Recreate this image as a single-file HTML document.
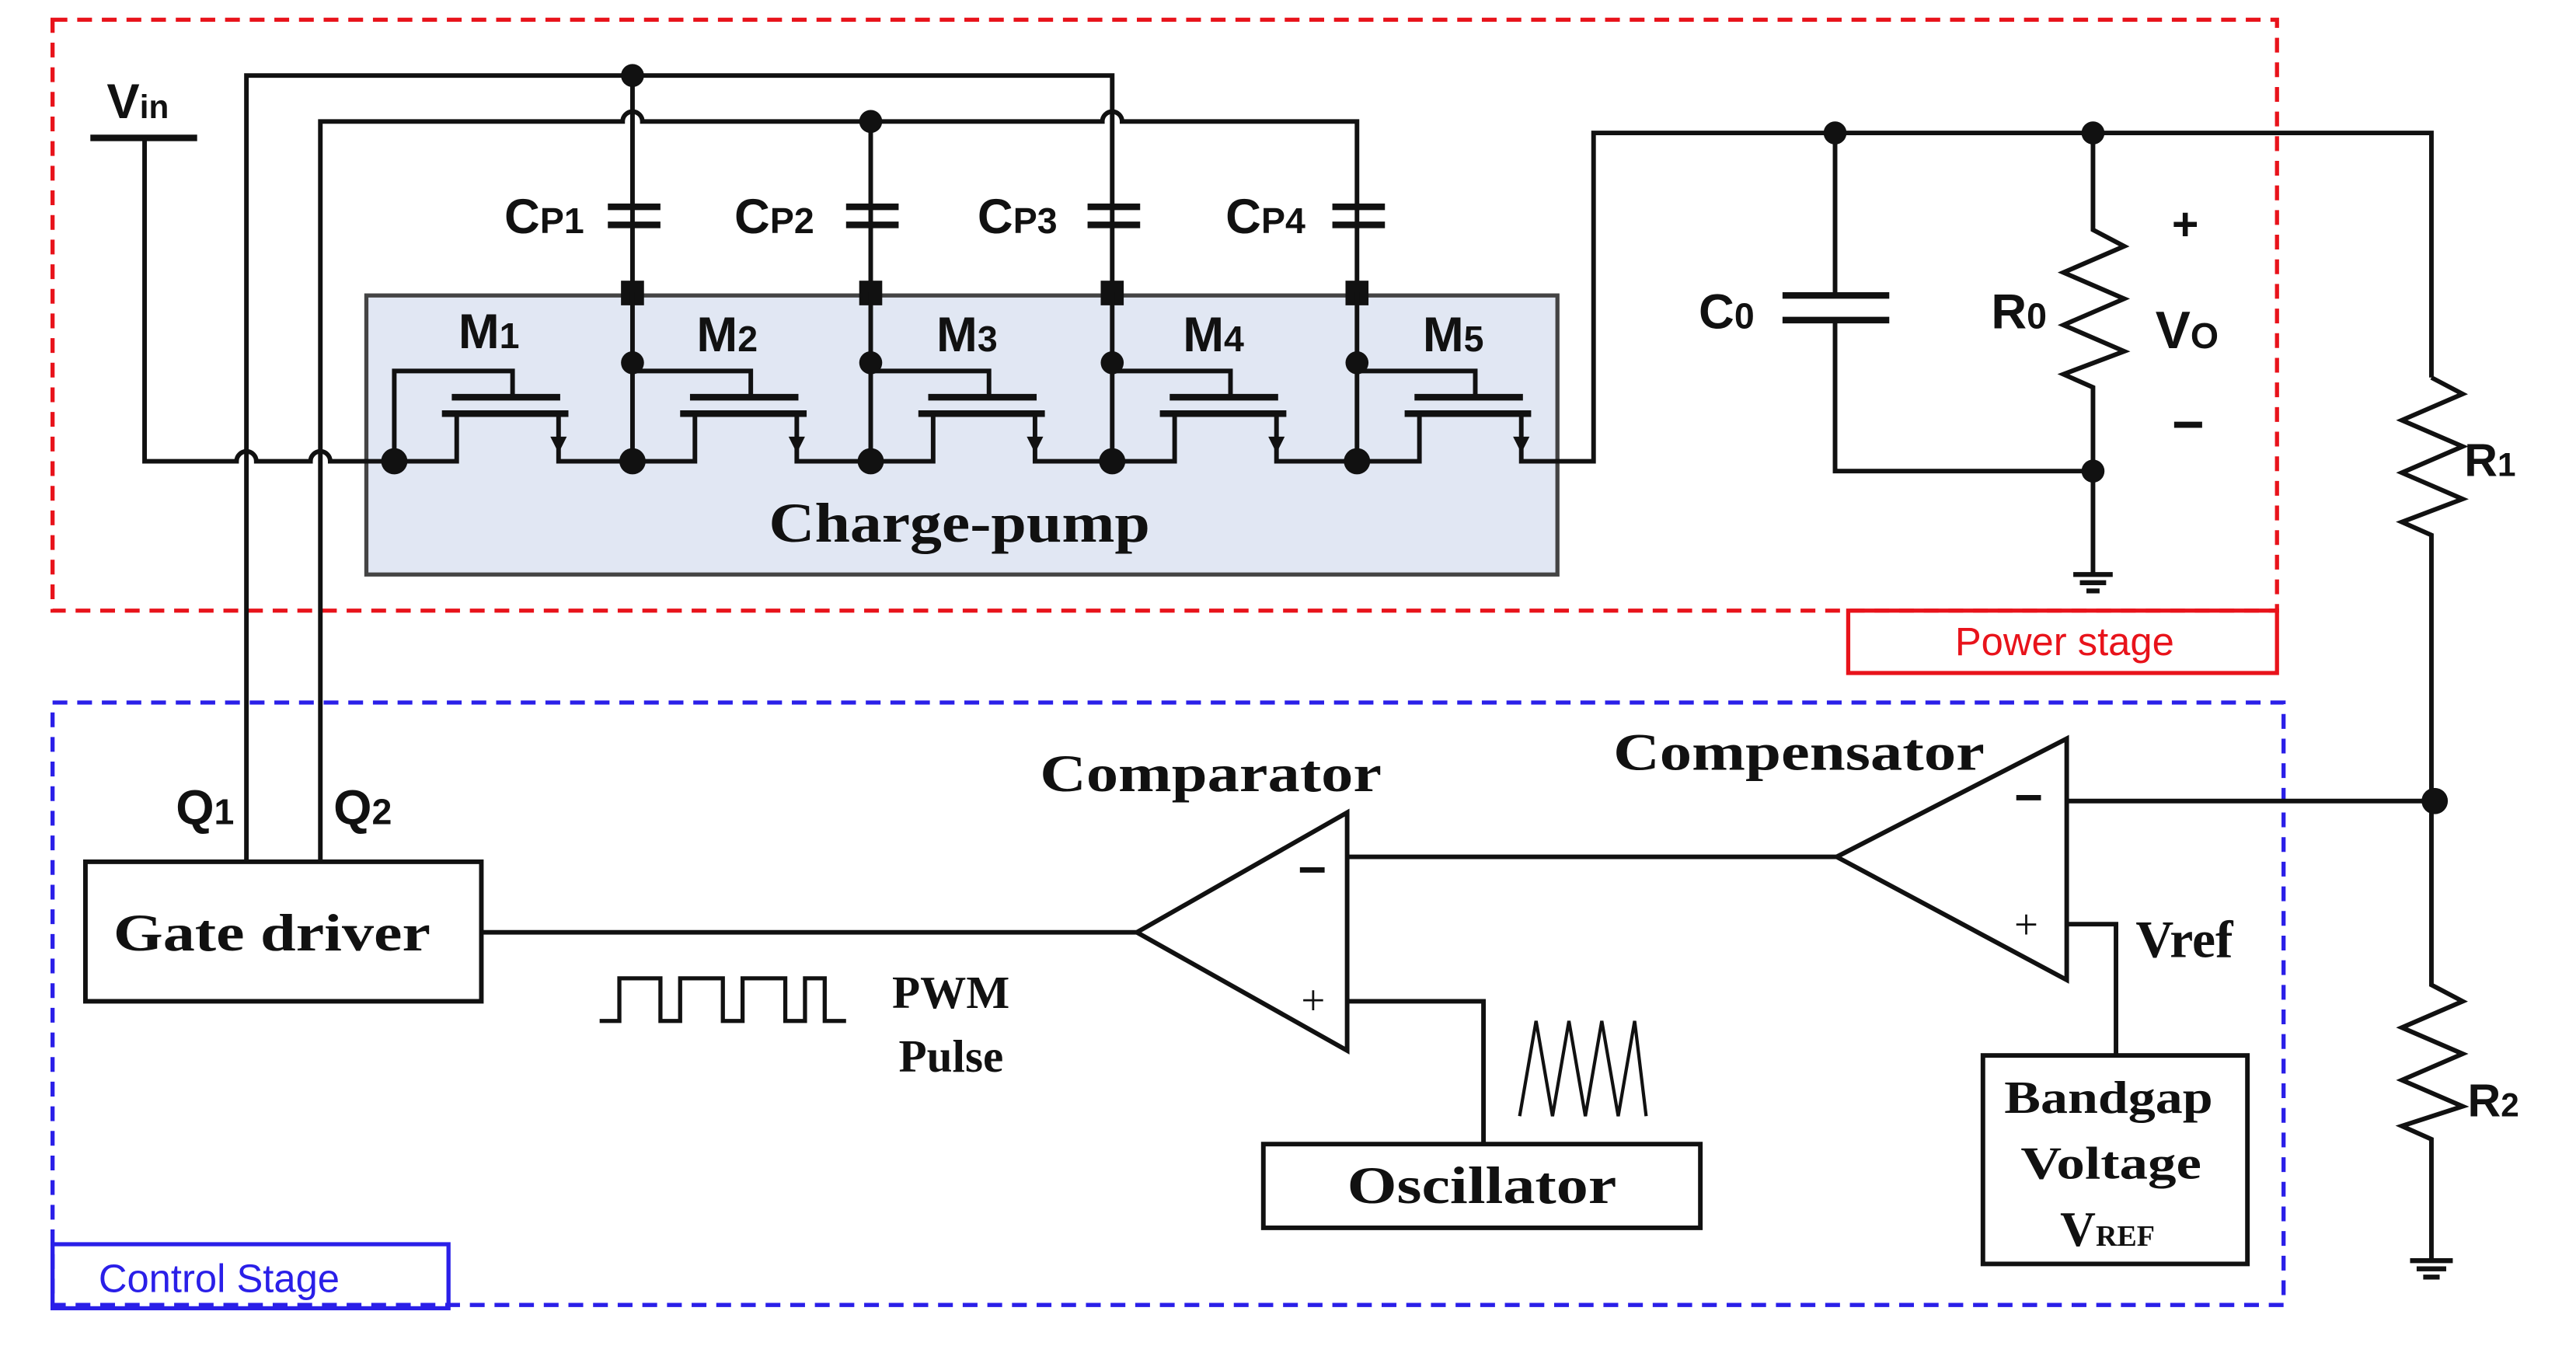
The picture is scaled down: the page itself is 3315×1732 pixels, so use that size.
<!DOCTYPE html>
<html><head><meta charset="utf-8"><style>html,body{margin:0;padding:0;background:#fff}svg{display:block}</style></head>
<body>
<svg width="3315" height="1732" viewBox="0 0 1568 820" preserveAspectRatio="none" xmlns="http://www.w3.org/2000/svg">
<g fill="none" stroke="#111" stroke-width="2.8">
<rect x="32" y="12" width="1354" height="360" stroke="#e8131b" stroke-width="2.5" stroke-dasharray="9,6"/>
<rect x="1125" y="372" width="261" height="38" stroke="#e8131b" stroke-width="2.5"/>
<rect x="32" y="428" width="1358" height="367" stroke="#2a1fe8" stroke-width="2.5" stroke-dasharray="9,6"/>
<rect x="32" y="758" width="241" height="39" stroke="#2a1fe8" stroke-width="2.5"/>
<rect x="223" y="180" width="725" height="170" fill="#e1e7f3" stroke="#444" stroke-width="2.5"/>
<line x1="55" y1="84" x2="120" y2="84" stroke-width="4"/>
<path d="M88 84 V281 H144 a6 6 0 0 1 12 0 H189 a6 6 0 0 1 12 0 H240"/>
<path d="M150 525 V46 H677 V178"/>
<path d="M195 525 V74 H379 a6 6 0 0 1 12 0 H671 a6 6 0 0 1 12 0 H826 V178"/>
<line x1="385" y1="46" x2="385" y2="178"/>
<line x1="530" y1="74" x2="530" y2="178"/>
<g stroke-width="4">
<line x1="370" y1="126" x2="402" y2="126"/><line x1="370" y1="137" x2="402" y2="137"/>
<line x1="515" y1="126" x2="547" y2="126"/><line x1="515" y1="137" x2="547" y2="137"/>
<line x1="662" y1="126" x2="694" y2="126"/><line x1="662" y1="137" x2="694" y2="137"/>
<line x1="811" y1="126" x2="843" y2="126"/><line x1="811" y1="137" x2="843" y2="137"/>
</g>
<g fill="#111" stroke="none">
<rect x="378" y="171" width="14" height="15"/><rect x="523" y="171" width="14" height="15"/>
<rect x="670" y="171" width="14" height="15"/><rect x="819" y="171" width="14" height="15"/>
</g>
<line x1="385" y1="178" x2="385" y2="281"/><line x1="530" y1="178" x2="530" y2="281"/>
<line x1="677" y1="178" x2="677" y2="281"/><line x1="826" y1="178" x2="826" y2="281"/>
<path d="M240 281 V226 H312 V241"/>
<path d="M385 226 H457 V241"/><path d="M530 226 H602 V241"/><path d="M677 226 H749 V241"/><path d="M826 226 H898 V241"/>
<g stroke-width="4">
<line x1="275" y1="242" x2="341" y2="242"/><line x1="269" y1="252" x2="346" y2="252"/>
<line x1="420" y1="242" x2="486" y2="242"/><line x1="414" y1="252" x2="491" y2="252"/>
<line x1="565" y1="242" x2="631" y2="242"/><line x1="559" y1="252" x2="636" y2="252"/>
<line x1="712" y1="242" x2="778" y2="242"/><line x1="706" y1="252" x2="783" y2="252"/>
<line x1="861" y1="242" x2="927" y2="242"/><line x1="855" y1="252" x2="932" y2="252"/>
</g>
<path d="M240 281 H278 V252 M340 252 V281 H423 V252 M485 252 V281 H568 V252 M630 252 V281 H715 V252 M777 252 V281 H864 V252 M926 252 V281 H970 V81 H1480 V230"/>
<g fill="#111" stroke="none">
<path d="M335 266 h10 l-5 10z"/><path d="M480 266 h10 l-5 10z"/><path d="M625 266 h10 l-5 10z"/><path d="M772 266 h10 l-5 10z"/><path d="M921 266 h10 l-5 10z"/>
</g>
<path d="M1117 81 V180 M1117 195 V287 H1274 V350"/>
<line x1="1085" y1="180" x2="1150" y2="180" stroke-width="4"/><line x1="1085" y1="195" x2="1150" y2="195" stroke-width="4"/>
<path d="M1274 81 V140 L1293 150 L1256 166 L1293 182 L1256 198 L1293 214 L1256 228 L1274 236 V287"/>
<path d="M1262 350 H1286 M1266 355 H1282 M1270 360 H1278" stroke-width="3"/>
<path d="M1480 230 L1499 240 L1462 256 L1499 272 L1462 288 L1499 304 L1462 318 L1480 326 V600 L1499 610 L1462 626 L1499 642 L1462 658 L1499 674 L1462 686 L1480 694 V768"/>
<path d="M1467 768 H1493 M1471 773 H1489 M1475 778 H1485" stroke-width="3"/>
<rect x="52" y="525" width="241" height="85"/>
<line x1="293" y1="568" x2="692" y2="568"/>
<path d="M692 568 L820 495 V640 Z"/>
<path d="M820 522 H1118"/>
<path d="M1118 522 L1258 450 V597 Z"/>
<path d="M1258 488 H1480"/>
<path d="M1258 563 H1288 V643"/>
<rect x="1207" y="643" width="161" height="127"/>
<rect x="769" y="697" width="266" height="51"/>
<path d="M820 610 H903 V697"/>
<path d="M925 680 L935 622 L945 680 L955 622 L965 680 L975 622 L985 680 L995 622 L1002 680" stroke-width="2"/>
<path d="M365 622 H377 V596 H402 V622 H414 V596 H440 V622 H452 V596 H478 V622 H490 V596 H502 V622 H515" stroke-width="2.5"/>
</g>
<g fill="#111">
<circle cx="385" cy="46" r="7"/><circle cx="530" cy="74" r="7"/>
<circle cx="240" cy="281" r="8"/><circle cx="385" cy="281" r="8"/><circle cx="530" cy="281" r="8"/><circle cx="677" cy="281" r="8"/><circle cx="826" cy="281" r="8"/>
<circle cx="385" cy="221" r="7"/><circle cx="530" cy="221" r="7"/><circle cx="677" cy="221" r="7"/><circle cx="826" cy="221" r="7"/>
<circle cx="1117" cy="81" r="7"/><circle cx="1274" cy="81" r="7"/><circle cx="1274" cy="287" r="7"/><circle cx="1482" cy="488" r="8"/>
</g>
<g font-family="Liberation Sans, sans-serif" font-weight="bold" fill="#111">
<text x="65" y="72" font-size="30">V<tspan font-size="20">in</tspan></text>
<text x="307" y="142" font-size="30">C<tspan font-size="22">P1</tspan></text>
<text x="447" y="142" font-size="30">C<tspan font-size="22">P2</tspan></text>
<text x="595" y="142" font-size="30">C<tspan font-size="22">P3</tspan></text>
<text x="746" y="142" font-size="30">C<tspan font-size="22">P4</tspan></text>
<text x="279" y="212" font-size="30">M<tspan font-size="22">1</tspan></text>
<text x="424" y="214" font-size="30">M<tspan font-size="22">2</tspan></text>
<text x="570" y="214" font-size="30">M<tspan font-size="22">3</tspan></text>
<text x="720" y="214" font-size="30">M<tspan font-size="22">4</tspan></text>
<text x="866" y="214" font-size="30">M<tspan font-size="22">5</tspan></text>
<text x="1034" y="200" font-size="30">C<tspan font-size="22">0</tspan></text>
<text x="1212" y="200" font-size="30">R<tspan font-size="22">0</tspan></text>
<text x="1322" y="146" font-size="28">+</text>
<text x="1312" y="212" font-size="32">V<tspan font-size="22">O</tspan></text>
<text x="1322" y="270" font-size="34">−</text>
<text x="1500" y="290" font-size="28">R<tspan font-size="20">1</tspan></text>
<text x="1502" y="680" font-size="28">R<tspan font-size="20">2</tspan></text>
<text x="107" y="502" font-size="30">Q<tspan font-size="22">1</tspan></text>
<text x="203" y="502" font-size="30">Q<tspan font-size="22">2</tspan></text>
<text x="790" y="540" font-size="30">−</text>
<text x="1226" y="496" font-size="30">−</text>
<text x="1190" y="399" font-size="24" font-weight="normal" fill="#e8131b">Power stage</text>
<text x="60" y="787" font-size="24" font-weight="normal" fill="#2a1fe8">Control Stage</text>
</g>
<g font-family="Liberation Serif, serif" font-weight="bold" fill="#111">
<text x="468" y="330" font-size="34" textLength="232" lengthAdjust="spacingAndGlyphs">Charge-pump</text>
<text x="69" y="579" font-size="32" textLength="193" lengthAdjust="spacingAndGlyphs">Gate driver</text>
<text x="633" y="482" font-size="32" textLength="208" lengthAdjust="spacingAndGlyphs">Comparator</text>
<text x="982" y="469" font-size="32" textLength="226" lengthAdjust="spacingAndGlyphs">Compensator</text>
<text x="543" y="614" font-size="28">PWM</text>
<text x="547" y="653" font-size="28">Pulse</text>
<text x="820" y="733" font-size="32" textLength="164" lengthAdjust="spacingAndGlyphs">Oscillator</text>
<text x="1300" y="583" font-size="32">Vref</text>
<text x="1220" y="678" font-size="28" textLength="127" lengthAdjust="spacingAndGlyphs">Bandgap</text>
<text x="1230" y="718" font-size="28" textLength="110" lengthAdjust="spacingAndGlyphs">Voltage</text>
<text x="1254" y="759" font-size="30">V<tspan font-size="18">REF</tspan></text>
<text x="792" y="618" font-size="26" font-weight="normal">+</text>
<text x="1226" y="572" font-size="26" font-weight="normal">+</text>
</g>
</svg>
</body></html>
